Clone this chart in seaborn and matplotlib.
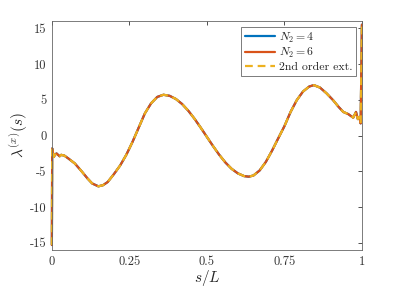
import numpy as np
import pandas as pd
import matplotlib
matplotlib.use("Agg")
import matplotlib.pyplot as plt
import seaborn as sns

# curve (all three series coincide)
s_vals = [0.0, 0.001, 0.006, 0.010, 0.015, 0.020, 0.025, 0.030, 0.040, 0.053,
          0.074, 0.096, 0.115, 0.130, 0.150, 0.165, 0.180, 0.200, 0.220, 0.240,
          0.260, 0.280, 0.300, 0.320, 0.340, 0.360, 0.380, 0.400, 0.420, 0.440,
          0.460, 0.480, 0.500, 0.520, 0.540, 0.560, 0.580, 0.600, 0.620, 0.635,
          0.650, 0.670, 0.690, 0.710, 0.730, 0.750, 0.770, 0.790, 0.810, 0.830,
          0.845, 0.865, 0.886, 0.907, 0.925, 0.940, 0.956, 0.972, 0.981, 0.987,
          0.992, 0.996, 1.0]
lam_vals = [-15.3, -1.8, -3.0, -2.7, -2.5, -2.7, -2.9, -2.7, -2.8, -3.2,
            -3.9, -5.0, -6.0, -6.7, -7.1, -6.94, -6.5, -5.4, -4.2, -2.7,
            -0.9, 1.1, 3.1, 4.5, 5.4, 5.7, 5.55, 5.11, 4.41, 3.47,
            2.35, 1.11, -0.19, -1.48, -2.7, -3.78, -4.66, -5.29, -5.67, -5.75,
            -5.59, -4.89, -3.7, -2.13, -0.4, 1.3, 3.3, 4.95, 6.15, 6.85,
            7.05, 6.7, 5.9, 4.95, 4.0, 3.3, 3.0, 2.5, 3.3, 2.3,
            2.6, 1.7, 15.5]

labels = ["$N_2 = 4$", "$N_2 = 6$", "2nd order ext."]
xticks = [0, 0.25, 0.5, 0.75, 1]
xticklabels = ["0", "0.25", "0.5", "0.75", "1"]
yticks = [-15, -10, -5, 0, 5, 10, 15]
yticklabels = ["-15", "-10", "-5", "0", "5", "10", "15"]

sns.set_theme(style="white")
plt.rcParams["font.family"] = ["cmr10", "DejaVu Serif"]
plt.rcParams["mathtext.fontset"] = "cm"
plt.rcParams["axes.unicode_minus"] = False

df = pd.DataFrame({"s": s_vals, "lam": lam_vals})

fig = plt.figure(figsize=(3.99, 2.89), dpi=100)
ax = fig.add_axes([0.13, 0.135, 0.777, 0.792])

sns.lineplot(data=df, x="s", y="lam", ax=ax, color="#0072BD", lw=1.6,
             estimator=None, sort=False, label=labels[0])
sns.lineplot(data=df, x="s", y="lam", ax=ax, color="#D95319", lw=1.6,
             estimator=None, sort=False, label=labels[1])
sns.lineplot(data=df, x="s", y="lam", ax=ax, color="#EDB120", lw=1.6,
             estimator=None, sort=False, label=labels[2], dashes=False)
ax.lines[2].set_dashes((3.5, 2.2))
for ln in ax.lines:
    ln.set_clip_on(False)

ax.set_xlim(0, 1)
ax.set_ylim(-16, 16)
ax.set_xticks(xticks)
ax.set_xticklabels(xticklabels)
ax.set_yticks(yticks)
ax.set_yticklabels(yticklabels)
ax.tick_params(direction="in", length=3, width=0.6, top=True, right=True,
               labelsize=9, colors="#333333", pad=4)
for sp in ax.spines.values():
    sp.set_color("#666666")
    sp.set_linewidth(0.6)

ax.set_xlabel("$s/L$", fontsize=11, labelpad=0)
ax.set_ylabel("$\\lambda^{(x)}(s)$", fontsize=11, labelpad=0)

leg = ax.legend(loc="upper right", fontsize=8.5, frameon=True, fancybox=False,
                framealpha=1, edgecolor="#666666", handlelength=2.6,
                handletextpad=0.3, borderpad=0.3, labelspacing=0.15,
                borderaxespad=0.5)
leg.get_frame().set_linewidth(0.6)
leg.get_lines()[2].set_dashes((3.5, 2.2))

fig.savefig("out.png", dpi=100)
